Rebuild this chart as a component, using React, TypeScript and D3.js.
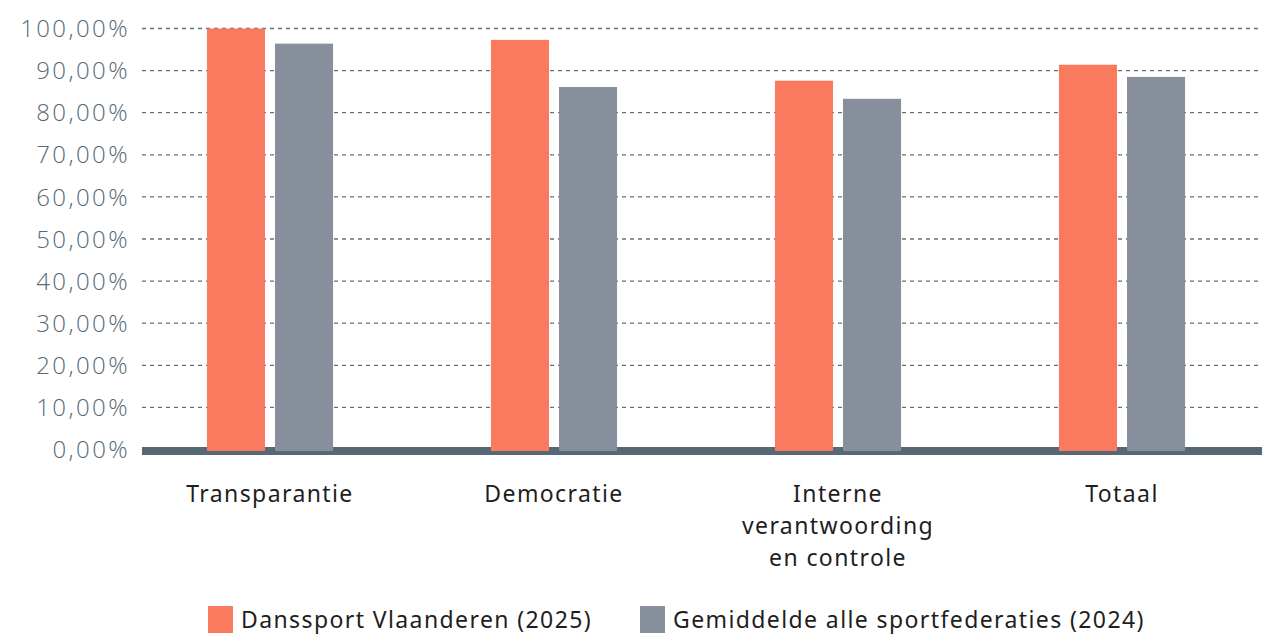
import React from "react";
import * as d3 from "d3";

const categories = ["Transparantie", "Democratie", "Interne\nverantwoording\nen controle", "Totaal"];
const seriesNames = ["Danssport Vlaanderen (2025)", "Gemiddelde alle sportfederaties (2024)"];
const danssport = [100, 97.3, 87.6, 91.4];
const gemiddelde = [96.4, 86.1, 83.3, 88.5];
const yTicks = [0, 10, 20, 30, 40, 50, 60, 70, 80, 90, 100];
const colors = ["#F97A5E", "#878F9C"];

const W = 1271;
const H = 642;

export default function App() {
  const series = [danssport, gemiddelde];

  const y = d3.scaleLinear().domain([0, 100]).range([449.5, 28.5]);
  const x0 = d3.scaleBand<string>().domain(categories).range([128, 1264])
    .paddingInner(0.556).paddingOuter(0.278);
  const x1 = d3.scaleBand<number>().domain([0, 1]).range([0, x0.bandwidth()])
    .paddingInner(0.147);

  const fmt = (v: number) => v.toFixed(2).replace(".", ",") + "%";
  const left = 142;
  const right = 1262;

  return (
    <svg width={W} height={H} style={{ position: "absolute", left: 0, top: 0 }}>
      <rect width={W} height={H} fill="#fff" />
      {yTicks.map(t => (
        <g key={t}>
          {t > 0 && (
            <line x1={left} x2={right} y1={y(t)} y2={y(t)} stroke="#61707c"
              strokeWidth={1.3} strokeDasharray="4 4" />
          )}
          <text x={130} y={y(t)} dy="0.36em" textAnchor="end" fontFamily="Open Sans"
            fontWeight={300} fontSize={24} letterSpacing={2.4} fill="#566a77">{fmt(t)}</text>
        </g>
      ))}
      <line x1={left} x2={right} y1={y(0) + 1.5} y2={y(0) + 1.5} stroke="#566875" strokeWidth={8} />
      {categories.map((c, i) => (
        <g key={c} transform={`translate(${x0(c)},0)`}>
          {series.map((s, j) => (
            <rect key={j} x={x1(j)} width={x1.bandwidth()} y={y(s[i])}
              height={y(0) + 1.5 - y(s[i])} fill={colors[j]} />
          ))}
          {c.split("\n").map((line, k) => (
            <text key={k} x={x0.bandwidth() / 2} y={502 + k * 32} textAnchor="middle"
              fontFamily="Noto Sans" fontSize={23} letterSpacing={1.4} fill="#1e1e1e">{line}</text>
          ))}
        </g>
      ))}
      {seriesNames.map((n, j) => {
        const lx = j === 0 ? 208 : 640;
        return (
          <g key={n} transform={`translate(${lx},606)`}>
            <rect width={25} height={27} fill={colors[j]} />
            <text x={33} y={14} dy="0.36em" fontFamily="Noto Sans" fontSize={23}
              letterSpacing={1.4} fill="#1e1e1e">{n}</text>
          </g>
        );
      })}
    </svg>
  );
}
